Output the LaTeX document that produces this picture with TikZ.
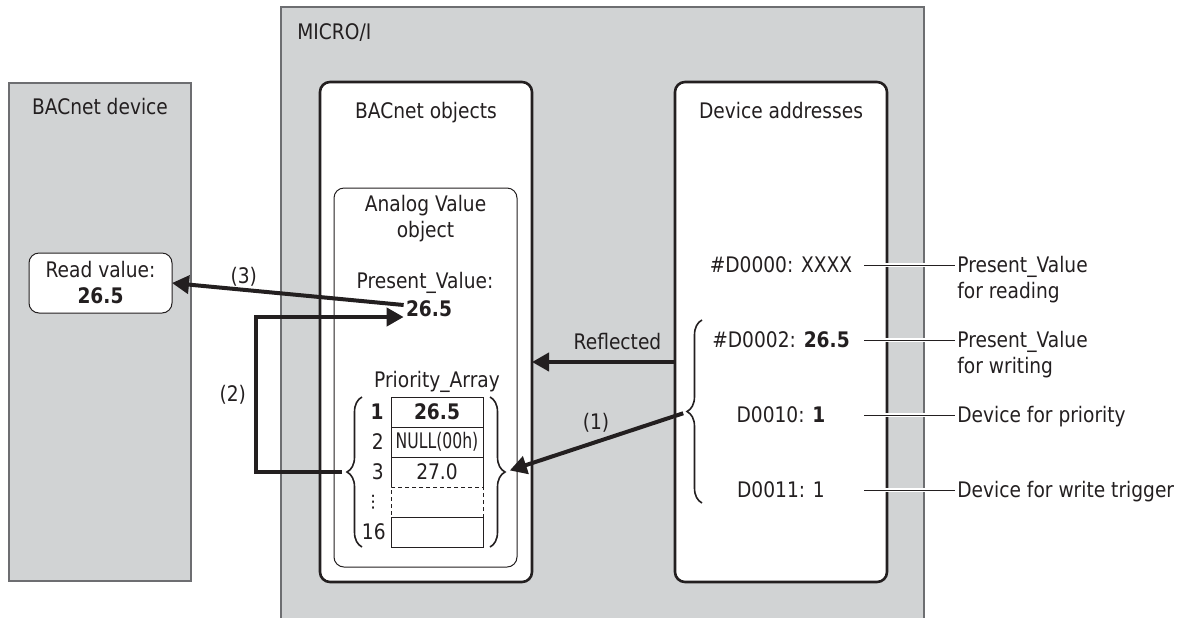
\documentclass[tikz,border=0pt]{standalone}
\usepackage{fontspec}
\setmainfont{DejaVu Sans}[FakeStretch=0.87]
\usepackage{graphicx}
\usepackage{xcolor}
\definecolor{panelgray}{HTML}{D1D3D4}
\definecolor{ink}{HTML}{231F20}
\definecolor{rim}{HTML}{6D6E71}
\usetikzlibrary{positioning,arrows.meta,decorations.pathreplacing,calc}
\tikzset{
  panel/.style ={rectangle, draw=rim, line width=0.6pt, fill=panelgray, anchor=north west,
                 inner sep=0pt, outer sep=0pt},
  holder/.style={rectangle, rounded corners=5pt, draw=ink, line width=1.3pt, fill=white,
                 anchor=north west, inner sep=0pt, outer sep=0pt},
  obox/.style  ={rectangle, rounded corners=5pt, draw=ink, line width=0.5pt, fill=white,
                 anchor=north west, inner sep=0pt, outer sep=0pt},
  txt/.style   ={font=\fontsize{10.7}{13}\selectfont, text=ink, inner sep=1pt, align=center},
  cell/.style  ={txt, draw=ink, line width=0.5pt, minimum width=46pt, minimum height=15pt,
                 inner sep=0pt, outer sep=0pt},
  arr/.style   ={-{Triangle[length=8.5pt,width=9pt]}, line width=2pt, draw=ink},
  lead/.style  ={draw=ink, line width=0.5pt, preaction={draw=white, line width=1.8pt}},
  brc/.style   ={decorate, decoration={brace, amplitude=7.5pt}, draw=ink, line width=0.8pt},
}

\begin{document}
\begin{tikzpicture}[x=0.5pt, y=-0.5pt]
  \useasboundingbox (0,0) rectangle (1183,617);
  % grey panels
  \node[panel, minimum width=321.5pt, minimum height=310pt] (micro) at (281,7) {};
  \node[panel, minimum width=91pt, minimum height=249pt] (bdev) at (9,83) {};
  \node[txt, anchor=west] (microt) at (295,33) {MICRO/I};
  \node[txt, below=6.5pt of bdev.north] (bdevt) {BACnet device};
  \node[obox, txt, inner sep=0pt, minimum width=71.5pt, minimum height=30pt] (readv) at (29,253)
       {Read value:\\\textbf{26.5}};

  % white holders
  \node[holder, minimum width=106pt, minimum height=250pt] (objs) at (320,82) {};
  \node[holder, minimum width=106pt, minimum height=250pt] (addr) at (675,82) {};
  \node[txt, below=9pt of objs.north] (objst) {BACnet objects};
  \node[txt, below=9pt of addr.north] (addrt) {Device addresses};
  \node[obox, minimum width=91.5pt, minimum height=189.5pt] (avo) at (334,188) {};
  \node[txt, below=2.5pt of avo.north] (avot) {Analog Value\\object};
  \node[txt] (pvt) at (425,283) {Present\_Value:};
  \node[txt] (pv) at (429,309) {\textbf{26.5}};
  \node[txt] (prt) at (437,382) {Priority\_Array};

  % priority array
  \node[cell] (c1) at (437,412) {\textbf{26.5}};
  \node[cell, below=0pt of c1] (c2) {\scalebox{0.84}[1]{NULL(00h)}};
  \node[cell, draw=none, below=0pt of c2] (c3) {27.0};
  \node[cell, dash pattern=on 2pt off 1.5pt, below=0pt of c3] (c4) {};
  \node[cell, below=0pt of c4] (c16) {};
  \draw[draw=ink, line width=0.5pt] (c3.south west) -- (c3.north west) (c3.north east) -- (c3.south east);
  \node[txt, left=2.5pt of c1] (i1) {\textbf{1}};
  \node[txt, left=2.5pt of c2] (i2) {2};
  \node[txt, left=2.5pt of c3] (i3) {3};
  \node[txt, inner sep=0pt, left=4pt of c4] (i4) {\scalebox{1}[0.8]{⋮}};
  \node[txt, left=1.5pt of c16] (i16) {16};
  \draw[brc] ($(c16.south west)+(-29,0)$) -- ($(c1.north west)+(-29,0)$);
  \draw[brc] ($(c1.north east)+(7,0)$) -- ($(c16.south east)+(7,0)$);
  \coordinate (ltip) at ($(c3.west)+(-44,0)$);
  \coordinate (rtip) at ($(c3.east)+(22,0)$);

  % device addresses
  \node[txt] (a0) at (781,265) {\#D0000: XXXX};
  \node[txt] (a1) at (781,340) {\#D0002: \textbf{26.5}};
  \node[txt] (a2) at (781,415) {D0010: \textbf{1}};
  \node[txt] (a3) at (781,490) {D0011: 1};
  \draw[brc] (702,503) -- (702,320);
  \coordinate (atip) at (687,412);
  \coordinate (lx) at (864,0);
  \node[txt, align=left, anchor=west] (n0) at (955,280) {Present\_Value\\for reading};
  \node[txt, align=left, anchor=west] (n1) at (955,355) {Present\_Value\\for writing};
  \node[txt, align=left, anchor=west] (n2) at (955,417) {Device for priority};
  \node[txt, align=left, anchor=west] (n3) at (955,492) {Device for write trigger};
  \draw[lead] (a0 -| lx) -- (a0 -| n0.west);
  \draw[lead] (a1 -| lx) -- (a1 -| n1.west);
  \draw[lead] (a2 -| lx) -- (a2 -| n2.west);
  \draw[lead] (a3 -| lx) -- (a3 -| n3.west);

  % arrows
  \coordinate (bend) at (256,317);
  \draw[arr] ([yshift=-15pt]addr.west) -- node[txt, above=4pt, xshift=7pt] (rfl) {Reflected} ([yshift=-15pt]objs.east);
  \draw[arr, shorten <=2pt, shorten >=2.5pt] (atip) -- node[txt, above=3pt] (l1) {(1)} (rtip);
  \draw[arr, shorten <=2.5pt] (ltip) -- (ltip -| bend) -- node[txt, left=3pt] (l2) {(2)} (bend) -- ([yshift=-4pt]pv.west);
  \draw[arr] ([yshift=2pt]pv.west) -- node[txt, above, pos=0.69] (l3) {(3)} (readv.east);
\end{tikzpicture}
\end{document}
